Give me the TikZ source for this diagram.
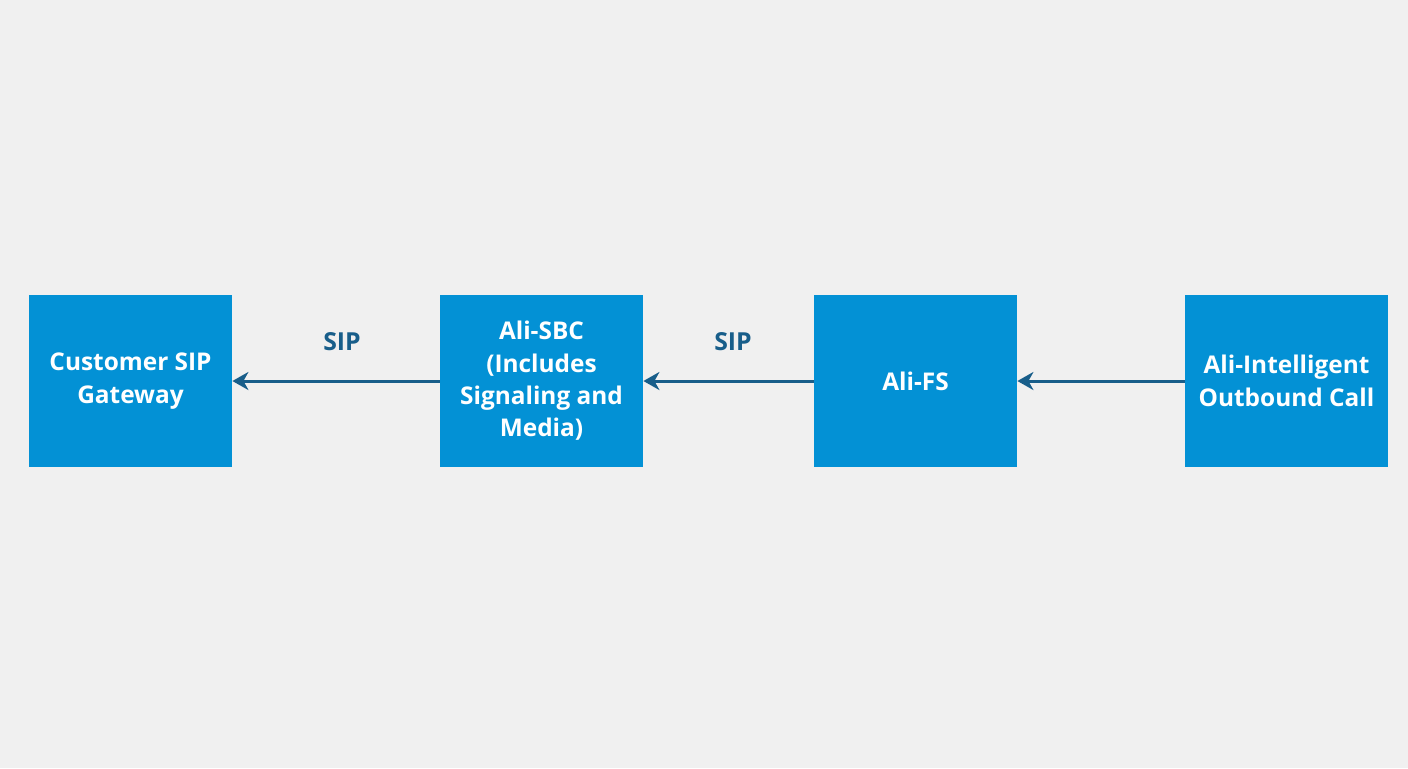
\documentclass[tikz,border=0pt]{standalone}
\usepackage{fontspec}
\setmainfont{Open Sans}
\usetikzlibrary{arrows.meta}
\definecolor{bgcol}{RGB}{240,240,240}
\definecolor{boxblue}{RGB}{3,145,213}
\definecolor{linkblue}{RGB}{24,94,138}
\begin{document}
\begin{tikzpicture}[x=0.5pt,y=-0.5pt,
    box/.style={fill=boxblue,text=white,minimum width=101.5pt,minimum height=86pt,
      align=center,inner sep=2pt,font=\bfseries\fontsize{12.2}{16.2}\selectfont},
    link/.style={draw=linkblue,line width=1.5pt,-{Stealth[length=8pt,width=9pt,inset=2.5pt]}},
    lbl/.style={text=linkblue,font=\bfseries\fontsize{12.4}{14}\selectfont}]
  \fill[bgcol] (0,0) rectangle (1408,768);
  \useasboundingbox (0,0) rectangle (1408,768);
  \node[box] (gw) at (130.5,381) {Customer SIP\\Gateway};
  \node[box] (sbc) at (541.5,381) {Ali-SBC\\(Includes\\Signaling and\\Media)};
  \node[box] (fs) at (915.5,381) {Ali-FS};
  \node[box] (aic) at (1286.5,381) {Ali-Intelligent\\Outbound Call};
  \begin{scope}[link]
    \draw (sbc) to (gw);
    \draw (fs) to (sbc);
    \draw (aic) to (fs);
  \end{scope}
  \node[lbl] (sip1) at (342,342) {SIP};
  \node[lbl] (sip2) at (733,342) {SIP};
\end{tikzpicture}
\end{document}
